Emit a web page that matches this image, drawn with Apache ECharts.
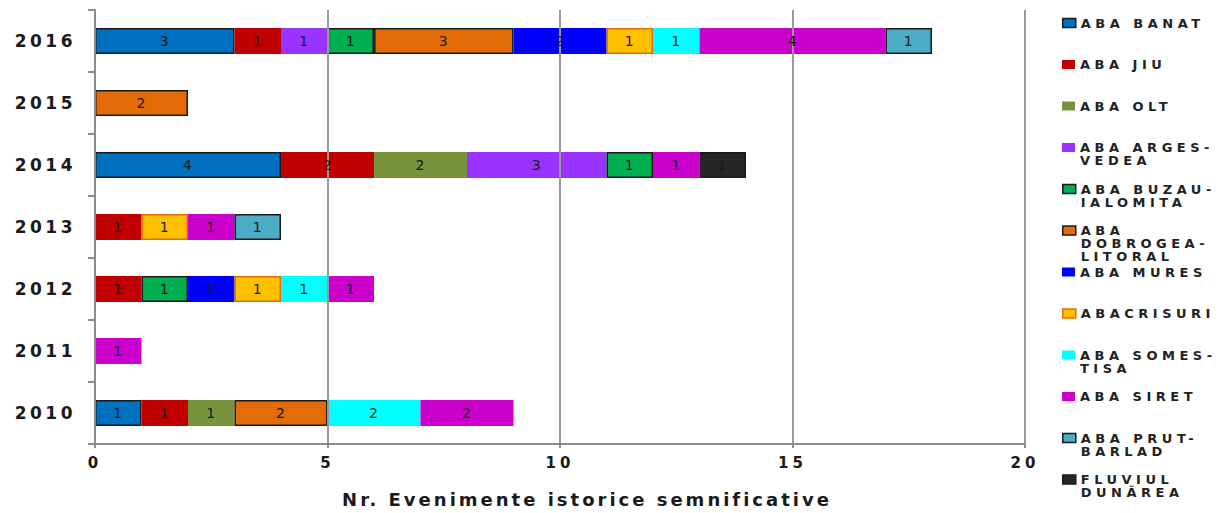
<!DOCTYPE html>
<html>
<head>
<meta charset="utf-8">
<script src="https://cdn.jsdelivr.net/npm/echarts@6/dist/echarts.min.js"></script>
<style>
  html, body { margin: 0; padding: 0; background: #fff; }
  #chart { width: 1221px; height: 513px; }
  /* the source picture is stretched wide: widen the text a little */
  #chart text[style*=" 13px"] { letter-spacing: 4.5px; }
  #chart text[style*=" 15px"] { letter-spacing: 4px; }
  #chart text[style*=" 18px"] { letter-spacing: 3px; }
  #chart text[style*=" 17px"] { letter-spacing: 3.5px; }
  #chart text[style*=" 14px"] { letter-spacing: 1px; }
</style>
</head>
<body>
<div id="chart"></div>
<script>
const FONT = '"DejaVu Sans", sans-serif'

const years = ['2010', '2011', '2012', '2013', '2014', '2015', '2016']
const xTicks = [0, 5, 10, 15, 20]

const seriesNames = [
  'ABA BANAT', 'ABA JIU', 'ABA OLT', 'ABA ARGES-VEDEA', 'ABA BUZAU-IALOMITA',
  'ABA DOBROGEA-LITORAL', 'ABA MURES', 'ABACRISURI', 'ABA SOMES-TISA',
  'ABA SIRET', 'ABA PRUT-BARLAD', 'FLUVIUL DUNĂREA',
]
// legend lines as wrapped in the picture
const legendText = [
  'ABA BANAT', 'ABA JIU', 'ABA OLT', 'ABA ARGES-\nVEDEA', 'ABA BUZAU-\nIALOMITA',
  'ABA\nDOBROGEA-\nLITORAL', 'ABA MURES', 'ABACRISURI', 'ABA SOMES-\nTISA',
  'ABA SIRET', 'ABA PRUT-\nBARLAD', 'FLUVIUL\nDUNĂREA',
]

// counts per year, 2010 .. 2016
const banat    = [1, 0, 0, 0, 4, 0, 3]
const jiu      = [1, 0, 1, 1, 2, 0, 1]
const olt      = [1, 0, 0, 0, 2, 0, 0]
const arges    = [0, 0, 0, 0, 3, 0, 1]
const buzau    = [0, 0, 1, 0, 1, 0, 1]
const dobrogea = [2, 0, 0, 0, 0, 2, 3]
const mures    = [0, 0, 1, 0, 0, 0, 2]
const crisuri  = [0, 0, 1, 1, 0, 0, 1]
const somes    = [2, 0, 1, 0, 0, 0, 1]
const siret    = [2, 1, 1, 1, 1, 0, 4]
const prut     = [0, 0, 0, 1, 0, 0, 1]
const dunarea  = [0, 0, 0, 0, 1, 0, 0]

const values = [banat, jiu, olt, arges, buzau, dobrogea, mures, crisuri, somes, siret, prut, dunarea]

const fills = ['#0070C0', '#C00000', '#77933C', '#9933FF', '#00B050', '#E36C09',
  '#0000FF', '#FFC000', '#00FFFF', '#CC00CC', '#4BACC6', '#262626']
const borders = ['#1a1a1a', null, null, null, '#1a1a1a', '#1a1a1a',
  null, '#E36C09', null, null, '#1a1a1a', '#1a1a1a']

const chart = echarts.init(document.getElementById('chart'), null, { renderer: 'svg' })

const LINE = 13
const legends = seriesNames.map((name, i) => {
  const lines = legendText[i].split('\n')
  const n = lines.length
  // blank lines on top keep the first line level with the icon
  const text = '\n'.repeat(n - 1) + legendText[i]
  return {
    orient: 'vertical',
    left: 1062,
    top: 23 + 41.5 * i - (2 * n - 1) * LINE / 2,
    padding: 0,
    icon: 'rect',
    itemWidth: 13,
    itemHeight: 9,
    selectedMode: false,
    data: [name],
    formatter: () => text,
    textStyle: { fontFamily: FONT, fontSize: 13, fontWeight: 'bold', color: '#222', lineHeight: LINE },
    itemStyle: { borderColor: borders[i] || fills[i], borderWidth: borders[i] ? 1.5 : 0 },
  }
})

const bars = seriesNames.map((name, i) => ({
  name,
  type: 'bar',
  stack: 'total',
  barWidth: 26,
  barGap: '-100%',
  z: 2,
  data: values[i].map((v) => (v ? v : null)),
  itemStyle: {
    color: fills[i],
    borderColor: borders[i] || fills[i],
    borderWidth: borders[i] ? 1.5 : 0,
  },
}))

// same stacks again, see-through, only to put the numbers above the grid lines
const labels = seriesNames.map((name, i) => ({
  name: name + ' (valori)',
  type: 'bar',
  stack: 'labels',
  barWidth: 26,
  barGap: '-100%',
  z: 4,
  silent: true,
  data: values[i].map((v) => (v ? v : null)),
  itemStyle: { color: 'rgba(0,0,0,0)' },
  label: {
    show: true,
    position: 'inside',
    fontFamily: FONT,
    fontSize: 14,
    color: '#1a1a1a',
    formatter: (p) => p.value,
  },
}))

chart.setOption({
  animation: false,
  backgroundColor: '#fff',
  legend: legends,
  grid: { left: 95, right: 196, top: 10, bottom: 55 },
  xAxis: {
    type: 'value',
    min: xTicks[0],
    max: xTicks[xTicks.length - 1],
    interval: 5,
    z: 3,
    name: 'Nr. Evenimente istorice semnificative',
    nameLocation: 'middle',
    nameGap: 46,
    nameTextStyle: { fontFamily: FONT, fontSize: 18, fontWeight: 'bold', color: '#1a1a1a', padding: [0, 0, 0, 54] },
    axisLine: { show: true, lineStyle: { color: '#8c8c8c', width: 2 } },
    axisTick: { show: true, length: 4, lineStyle: { color: '#8c8c8c', width: 2 } },
    axisLabel: { fontFamily: FONT, fontSize: 15, fontWeight: 'bold', color: '#1a1a1a', margin: 11 },
    splitLine: { show: true, lineStyle: { color: '#9a9a9a', width: 2 } },
  },
  yAxis: {
    type: 'category',
    data: years,
    z: 3,
    axisLine: { show: true, lineStyle: { color: '#8c8c8c', width: 2 } },
    axisTick: { show: true, length: 7, lineStyle: { color: '#8c8c8c', width: 2 } },
    axisLabel: { fontFamily: FONT, fontSize: 17, fontWeight: 'bold', color: '#1a1a1a', margin: 19 },
  },
  series: bars.concat(labels),
})
</script>
</body>
</html>
